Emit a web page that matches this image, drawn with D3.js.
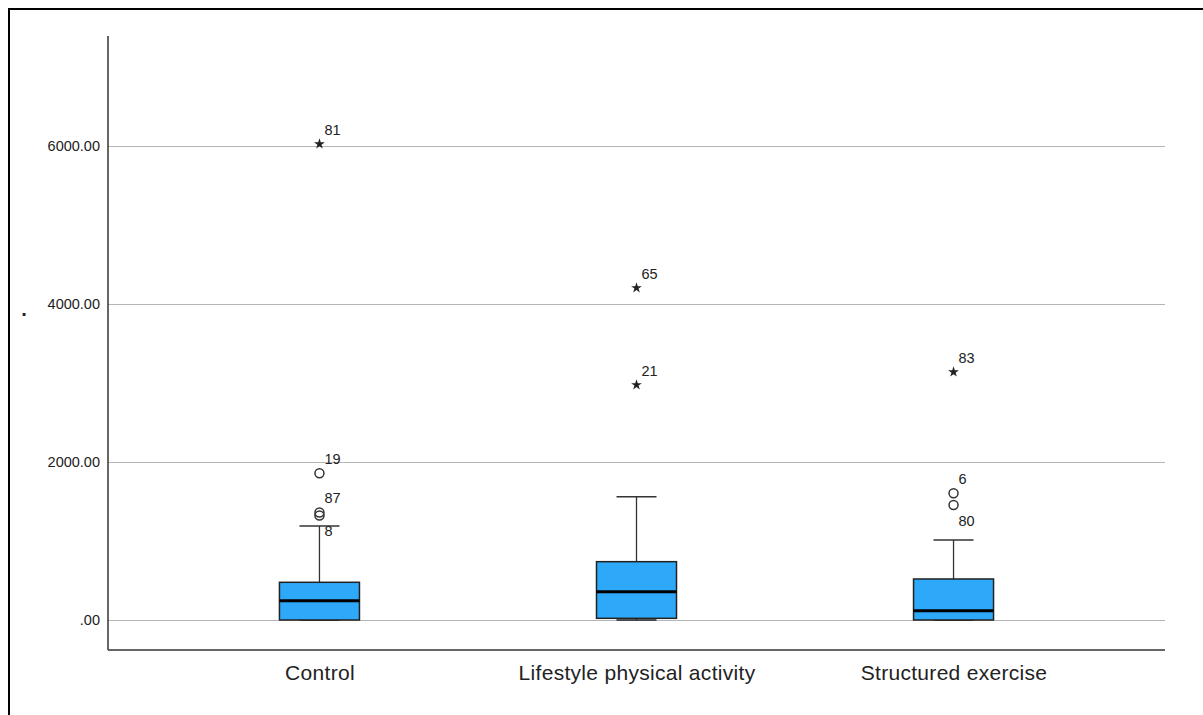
<!DOCTYPE html>
<html>
<head>
<meta charset="utf-8">
<script src="https://cdn.jsdelivr.net/npm/d3@7"></script>
<style>
  html, body { margin: 0; padding: 0; background: #fff; }
  svg { display: block; }
  text { font-family: "Liberation Sans", Arial, sans-serif; fill: #222; }
</style>
</head>
<body>
<svg id="chart" width="1203" height="715"></svg>
<script>
// Groups and box summary statistics
const groups = ["Control", "Lifestyle physical activity", "Structured exercise"];
const whiskerLow  = [0, 0, 0];
const q1          = [0, 21, 0];
const medians     = [244, 358, 118];
const q3          = [477, 738, 519];
const whiskerHigh = [1190, 1561, 1013];

// Outlying cases: group index, value, case id, kind (circle = outlier, star = extreme), label side
const outlierGroup = [0, 0, 0, 0, 1, 1, 2, 2, 2];
const outlierValue = [6025, 1857, 1361, 1323, 4203, 2975, 3139, 1604, 1456];
const outlierId    = ["81", "19", "87", "8", "65", "21", "83", "6", "80"];
const outlierKind  = ["star", "circle", "circle", "circle", "star", "star", "star", "circle", "circle"];
const outlierSide  = ["above", "above", "above", "below", "above", "above", "above", "above", "below"];

// Axis ticks
const yTicks = [0, 2000, 4000, 6000];
const yTickLabels = [".00", "2000.00", "4000.00", "6000.00"];

const svg = d3.select("#chart");
const plotLeft = 108, plotRight = 1165, plotTop = 36, plotBottom = 650;

const x = d3.scalePoint().domain(groups).range([plotLeft, plotRight]).padding(0.667);
const y = d3.scaleLinear().domain([-380, 7392]).range([plotBottom, plotTop]);

// Frame lines
svg.append("line").attr("x1", 9).attr("x2", 1203).attr("y1", 9).attr("y2", 9)
  .attr("stroke", "#000").attr("stroke-width", 2);
svg.append("line").attr("x1", 9).attr("x2", 9).attr("y1", 8).attr("y2", 715)
  .attr("stroke", "#000").attr("stroke-width", 2);

// Gridlines
svg.append("g").selectAll("line").data(yTicks).join("line")
  .attr("x1", plotLeft).attr("x2", plotRight)
  .attr("y1", d => Math.round(y(d)) + 0.5).attr("y2", d => Math.round(y(d)) + 0.5)
  .attr("stroke", "#b5b5b5").attr("stroke-width", 1);

// Y axis
const yAxis = d3.axisLeft(y).tickValues(yTicks)
  .tickFormat((d, i) => yTickLabels[i]).tickSize(0).tickPadding(8);
const gy = svg.append("g").attr("transform", `translate(${plotLeft},0)`).call(yAxis);
gy.select(".domain").remove();
gy.selectAll("text").attr("font-size", 14.5).attr("fill", "#2a2a2a")
  .attr("font-family", "Liberation Sans, Arial, sans-serif");

// Axis lines
svg.append("line").attr("x1", plotLeft).attr("x2", plotLeft).attr("y1", plotTop).attr("y2", plotBottom)
  .attr("stroke", "#333").attr("stroke-width", 1.5);
svg.append("line").attr("x1", plotLeft).attr("x2", plotRight).attr("y1", plotBottom).attr("y2", plotBottom)
  .attr("stroke", "#333").attr("stroke-width", 1.5);

// X axis labels
const xAxis = d3.axisBottom(x).tickSize(0).tickPadding(15);
const gx = svg.append("g").attr("transform", `translate(0,${plotBottom})`).call(xAxis);
gx.select(".domain").remove();
gx.selectAll("text").attr("font-size", 21).attr("fill", "#2a2a2a")
  .attr("letter-spacing", 0.3)
  .attr("font-family", "Liberation Sans, Arial, sans-serif");

// Y axis title
svg.append("text").attr("x", 24).attr("y", 316).attr("font-size", 20)
  .attr("font-weight", "bold").attr("fill", "#000")
  .attr("text-anchor", "middle").text(".");

// Boxes
const boxW = 80, capW = 40;
const boxes = svg.append("g").selectAll("g").data(groups).join("g");
boxes.append("line")
  .attr("x1", d => x(d)).attr("x2", d => x(d))
  .attr("y1", (d, i) => y(q3[i])).attr("y2", (d, i) => y(whiskerHigh[i]))
  .attr("stroke", "#333").attr("stroke-width", 1.3);
boxes.append("line")
  .attr("x1", d => x(d)).attr("x2", d => x(d))
  .attr("y1", (d, i) => y(q1[i])).attr("y2", (d, i) => y(whiskerLow[i]))
  .attr("stroke", "#333").attr("stroke-width", 1.3);
boxes.append("line")
  .attr("x1", d => x(d) - capW / 2).attr("x2", d => x(d) + capW / 2)
  .attr("y1", (d, i) => y(whiskerHigh[i])).attr("y2", (d, i) => y(whiskerHigh[i]))
  .attr("stroke", "#333").attr("stroke-width", 1.5);
boxes.append("line")
  .attr("x1", d => x(d) - capW / 2).attr("x2", d => x(d) + capW / 2)
  .attr("y1", (d, i) => y(whiskerLow[i])).attr("y2", (d, i) => y(whiskerLow[i]))
  .attr("stroke", "#222").attr("stroke-width", 1.5);
boxes.append("rect")
  .attr("x", d => x(d) - boxW / 2).attr("width", boxW)
  .attr("y", (d, i) => y(q3[i])).attr("height", (d, i) => y(q1[i]) - y(q3[i]))
  .attr("fill", "#2ea9f9").attr("stroke", "#222").attr("stroke-width", 1.5);
boxes.append("line")
  .attr("x1", d => x(d) - boxW / 2).attr("x2", d => x(d) + boxW / 2)
  .attr("y1", (d, i) => y(medians[i])).attr("y2", (d, i) => y(medians[i]))
  .attr("stroke", "#000").attr("stroke-width", 3);

// Outliers
const idx = d3.range(outlierValue.length);
const pts = svg.append("g").selectAll("g").data(idx).join("g")
  .attr("transform", i => `translate(${x(groups[outlierGroup[i]])},${y(outlierValue[i])})`);
pts.filter(i => outlierKind[i] === "circle").append("circle")
  .attr("r", 4.5).attr("fill", "none").attr("stroke", "#333").attr("stroke-width", 1.5);
pts.filter(i => outlierKind[i] === "star").append("path")
  .attr("d", d3.symbol(d3.symbolStar, 36)).attr("fill", "#222");
pts.append("text")
  .attr("x", 5)
  .attr("y", i => outlierSide[i] === "above" ? -9 : 21)
  .attr("font-size", 14.5)
  .text(i => outlierId[i]);
</script>
</body>
</html>
